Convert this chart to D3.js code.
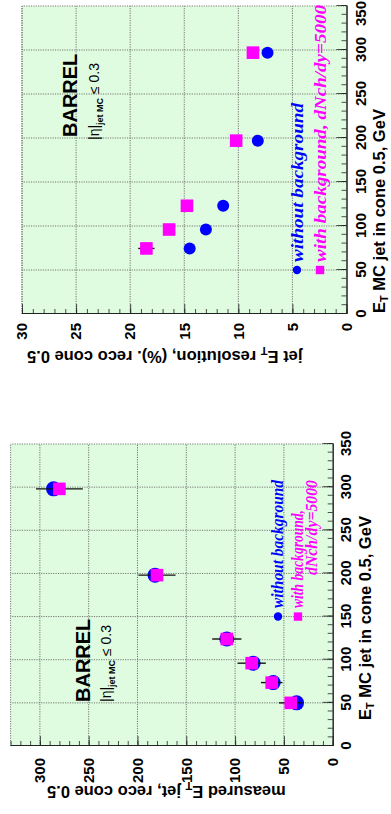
<!DOCTYPE html>
<html>
<head>
<meta charset="utf-8">
<script src="https://cdn.jsdelivr.net/npm/d3@7"></script>
<style>
  html, body { margin: 0; padding: 0; background: #fff; }
  svg { display: block; }
</style>
</head>
<body>
<svg id="chart" width="391" height="814"></svg>
<script>
// ---- data: left panel, measured jet E_T vs MC jet E_T ----
const etMC = [50, 73.5, 96, 124, 198, 298];
const measNoBkg = [37, 61, 81.5, 108.5, 182, 286];
const measBkg = [43, 62.5, 83, 108.5, 180, 280];
const measBkgErr = [12, 11, 14.5, 15, 19, 24];

// ---- data: right panel, jet E_T resolution vs MC jet E_T ----
const etMCRes = [74.5, 96, 123, 197, 297];
const resNoBkg = [14.5, 13.0, 11.4, 8.2, 7.3];
const resBkg = [18.5, 16.4, 14.75, 10.2, 8.65];
const resBkgErr = [0.75, 0.4, 0.55, 0.3, 0.3];

// ---- tick values ----
const xMajor = [0, 50, 100, 150, 200, 250, 300, 350];
const xMinor = d3.range(0, 351, 10);
const measMajor = [0, 50, 100, 150, 200, 250, 300];
const measMinor = d3.range(0, 331, 10);
const resMajor = [0, 5, 10, 15, 20, 25, 30];
const resMinor = d3.range(0, 31, 1);

const BLUE = "#0000ff", MAGENTA = "#ff00ff", FRAME_BG = "#e0fce0";
const SANS = "'Liberation Sans', Arial, sans-serif";
const SERIF = "'Liberation Serif', 'Times New Roman', serif";

// The figure is laid out landscape (814 x 391) and turned a quarter turn.
const svg = d3.select("#chart");
const root = svg.append("g").attr("transform", "translate(0,814) rotate(-90)");

function panel(cfg) {
  const g = root.append("g");
  const x = d3.scaleLinear().domain([0, 350]).range([cfg.x0, cfg.x1]);
  const y = d3.scaleLinear().domain(cfg.yDomain).range([cfg.y0, cfg.y1]);

  // frame background
  g.append("rect")
    .attr("x", cfg.x0).attr("y", cfg.y1)
    .attr("width", cfg.x1 - cfg.x0).attr("height", cfg.y0 - cfg.y1)
    .attr("fill", FRAME_BG);

  // grid
  const grid = g.append("g").attr("stroke", "#555").attr("stroke-width", 0.8)
    .attr("stroke-dasharray", "1.2,1.2");
  grid.selectAll(".gx").data(xMajor.filter(v => v > 0 && v < 350)).join("line")
    .attr("x1", d => x(d)).attr("x2", d => x(d))
    .attr("y1", cfg.y0).attr("y2", cfg.y1);
  grid.selectAll(".gy").data(cfg.yMajor.filter(v => v > 0)).join("line")
    .attr("y1", d => y(d)).attr("y2", d => y(d))
    .attr("x1", cfg.x0).attr("x2", cfg.x1);
  // frame edges opposite the axes
  grid.append("line").attr("x1", cfg.x0).attr("x2", cfg.x1).attr("y1", cfg.y1).attr("y2", cfg.y1);
  grid.append("line").attr("x1", cfg.x1).attr("x2", cfg.x1).attr("y1", cfg.y0).attr("y2", cfg.y1);

  // axes with inward ticks
  const xAxisG = g.append("g").attr("transform", `translate(0,${cfg.y0})`);
  xAxisG.call(d3.axisBottom(x).tickValues(xMinor).tickSize(-5).tickFormat("").tickSizeOuter(0));
  const xAxisMaj = g.append("g").attr("transform", `translate(0,${cfg.y0})`)
    .call(d3.axisBottom(x).tickValues(xMajor).tickSize(-10).tickPadding(cfg.xPad).tickSizeOuter(0)
      .tickFormat(d3.format("d")));
  const yAxisG = g.append("g").attr("transform", `translate(${cfg.x0},0)`);
  yAxisG.call(d3.axisLeft(y).tickValues(cfg.yMinor).tickSize(-5).tickFormat("").tickSizeOuter(0));
  const yAxisMaj = g.append("g").attr("transform", `translate(${cfg.x0},0)`)
    .call(d3.axisLeft(y).tickValues(cfg.yMajor).tickSize(-10).tickPadding(cfg.yPad).tickSizeOuter(0)
      .tickFormat(d3.format("d")));
  [xAxisG, xAxisMaj, yAxisG, yAxisMaj].forEach(a => {
    a.selectAll("path").attr("stroke", "#222").attr("stroke-width", 1);
    a.selectAll("line").attr("stroke", "#222").attr("stroke-width", 0.8);
    a.selectAll("text").attr("font-family", SANS).attr("font-weight", "bold")
      .attr("font-size", 15).attr("fill", "#000");
  });
  // keep the last x label inside the page edge
  if (cfg.lastXShift) {
    xAxisMaj.selectAll(".tick text").filter(d => d === 350).attr("x", -cfg.lastXShift);
  }

  // axis titles
  const xt = g.append("text").attr("x", cfg.xTitleX).attr("y", cfg.xTitleY)
    .attr("font-family", SANS).attr("font-weight", "bold").attr("font-size", 16.5);
  xt.append("tspan").text("E");
  xt.append("tspan").attr("font-size", 11).attr("dy", 3).text("T");
  xt.append("tspan").attr("dy", -3).text(" MC jet in cone 0.5, GeV");

  const yt = g.append("text")
    .attr("transform", `translate(${cfg.yTitleX},${cfg.yTitleY}) rotate(-90)`)
    .attr("text-anchor", "end")
    .attr("font-family", SANS).attr("font-weight", "bold").attr("font-size", 16.5);
  cfg.yTitle(yt);

  // BARREL and eta range labels
  g.append("text").attr("x", cfg.barrel[0]).attr("y", cfg.barrel[1])
    .attr("font-family", SANS).attr("font-weight", "bold").attr("font-size", 20)
    .text("BARREL");
  const eta = g.append("text").attr("x", cfg.eta[0]).attr("y", cfg.eta[1])
    .attr("font-family", SANS).attr("font-size", 14);
  eta.append("tspan").text("|\u03b7|");
  eta.append("tspan").attr("font-size", 9).attr("font-weight", "bold").attr("dy", 4).text("jet MC");
  eta.append("tspan").attr("dy", -4).text(" \u2264 0.3");

  return { g, x, y };
}

// legend text helper: italic serif stretched to a given run length
function legendText(g, x, y, len, size, color, str) {
  g.append("text").attr("x", x).attr("y", y)
    .attr("font-family", SERIF).attr("font-style", "italic").attr("font-weight", "bold")
    .attr("font-size", size).attr("fill", color)
    .attr("textLength", len).attr("lengthAdjust", "spacingAndGlyphs")
    .text(str);
}

// ---------- left panel: measured E_T ----------
const L = panel({
  x0: 68, x1: 370, y0: 332.7, y1: 10.6, yDomain: [0, 330],
  yMajor: measMajor, yMinor: measMinor, xPad: 8, yPad: 12,
  xTitleX: 94, xTitleY: 371, yTitleX: 28, yTitleY: 47,
  yTitle: t => {
    t.append("tspan").text("measured E");
    t.append("tspan").attr("font-size", 11).attr("dy", 4).text("T");
    t.append("tspan").attr("dy", -4).text(" jet, reco cone 0.5");
  },
  barrel: [112, 90], eta: [112, 111]
});

// blue circles (without background)
L.g.append("g").selectAll("circle").data(etMC).join("circle")
  .attr("cx", (d, i) => L.x(d)).attr("cy", (d, i) => L.y(measNoBkg[i]))
  .attr("r", 7.5).attr("fill", BLUE);
// error bars (with background)
L.g.append("g").selectAll("line").data(etMC).join("line")
  .attr("x1", d => L.x(d)).attr("x2", d => L.x(d))
  .attr("y1", (d, i) => L.y(measBkg[i] - measBkgErr[i]))
  .attr("y2", (d, i) => L.y(measBkg[i] + measBkgErr[i]))
  .attr("stroke", "#111").attr("stroke-width", 1.4);
// magenta squares (with background)
L.g.append("g").selectAll("rect").data(etMC).join("rect")
  .attr("x", d => L.x(d) - 6.3).attr("y", (d, i) => L.y(measBkg[i]) - 6.3)
  .attr("width", 12.6).attr("height", 12.6).attr("fill", MAGENTA);

// legend, left panel
L.g.append("circle").attr("cx", L.x(150)).attr("cy", 278).attr("r", 4.2).attr("fill", BLUE);
L.g.append("rect").attr("x", L.x(150) - 4.2).attr("y", 298 - 4.2).attr("width", 8.4).attr("height", 8.4)
  .attr("fill", MAGENTA);
legendText(L.g, 206, 283, 128, 16, BLUE, "without background");
legendText(L.g, 206, 303, 98, 16, MAGENTA, "with background,");
legendText(L.g, 239, 317, 95, 16, MAGENTA, "dNch/dy=5000");

// ---------- right panel: resolution ----------
const R = panel({
  x0: 500, x1: 808, y0: 346.5, y1: 22, yDomain: [0, 30],
  yMajor: resMajor, yMinor: resMinor, xPad: 9, yPad: 9,
  xTitleX: 501, xTitleY: 385, yTitleX: 463, yTitleY: 27,
  lastXShift: 8,
  yTitle: t => {
    t.append("tspan").text("jet E");
    t.append("tspan").attr("font-size", 11).attr("dy", 4).text("T");
    t.append("tspan").attr("dy", -4).text(" resolution, (%). reco cone 0.5");
  },
  barrel: [677, 77], eta: [674, 99]
});

R.g.append("g").selectAll("circle").data(etMCRes).join("circle")
  .attr("cx", d => R.x(d)).attr("cy", (d, i) => R.y(resNoBkg[i]))
  .attr("r", 6).attr("fill", BLUE);
R.g.append("g").selectAll("line").data(etMCRes).join("line")
  .attr("x1", d => R.x(d)).attr("x2", d => R.x(d))
  .attr("y1", (d, i) => R.y(resBkg[i] - resBkgErr[i]))
  .attr("y2", (d, i) => R.y(resBkg[i] + resBkgErr[i]))
  .attr("stroke", "#111").attr("stroke-width", 1.4);
R.g.append("g").selectAll("rect").data(etMCRes).join("rect")
  .attr("x", d => R.x(d) - 6.3).attr("y", (d, i) => R.y(resBkg[i]) - 6.3)
  .attr("width", 12.6).attr("height", 12.6).attr("fill", MAGENTA);

// legend, right panel
R.g.append("circle").attr("cx", R.x(50)).attr("cy", 297).attr("r", 4.2).attr("fill", BLUE);
R.g.append("rect").attr("x", R.x(50) - 4.2).attr("y", 320 - 4.2).attr("width", 8.4).attr("height", 8.4)
  .attr("fill", MAGENTA);
legendText(R.g, 552, 303, 159, 17, BLUE, "without background");
legendText(R.g, 552, 326, 257, 17, MAGENTA, "with background, dNch/dy=5000");
</script>
</body>
</html>
